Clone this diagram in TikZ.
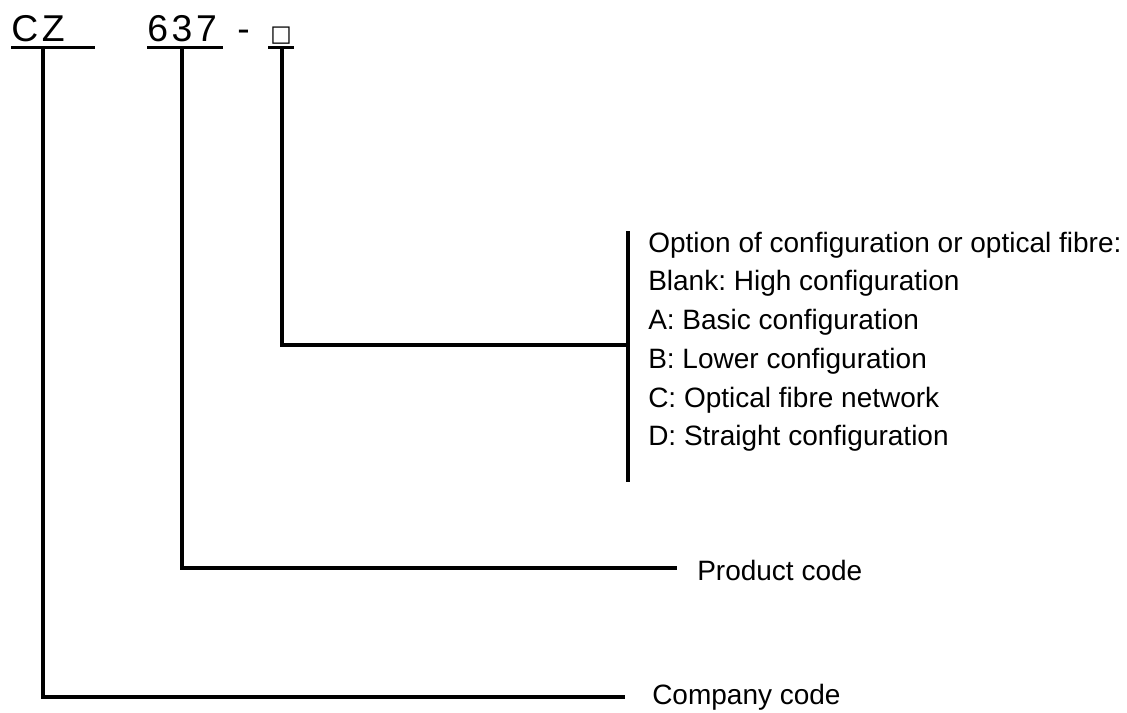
\documentclass[tikz,border=0pt]{standalone}
\usepackage{fontspec}
\setmainfont{Liberation Sans}
\newfontfamily\symfont{DejaVu Sans}
\frenchspacing
\begin{document}
\begin{tikzpicture}[x=0.75pt,y=-0.75pt,
	code_part/.style={inner sep=0pt,anchor=base west,font=\fontsize{28}{32}\selectfont\addfontfeature{LetterSpace=10}},
	item_label/.style={inner sep=0pt,anchor=west,font=\fontsize{21}{25}\selectfont},
	under_line/.style={line width=1.6pt},
	lead_line/.style={line width=2.5pt}]

	\useasboundingbox (0,0) rectangle (1127,713);

	% model code
	\node[code_part] (cz) at (11,42) {CZ};
	\node[code_part] (num) at (147,42) {637};
	\node[code_part] (dash) at (237,42) {-};
	\node[code_part,font=\fontsize{17}{20}\symfont] (box) at (270,42) {□};

	\draw[under_line] (11,47.5) -- (95,47.5);
	\draw[under_line] (147,47.5) -- (223,47.5);
	\draw[under_line] (268,47.5) -- (294,47.5);

	\coordinate (cz_foot) at (43,48);
	\coordinate (num_foot) at (182,48);
	\coordinate (box_foot) at (282,48);

	% labels
	\node[item_label] (company) at (652,697) {Company code};
	\node[item_label] (product) at (697,570) {Product code};
	\foreach \i/\txt in {0/Option of configuration or optical fibre:,
		1/Blank: High configuration,
		2/A: Basic configuration,
		3/B: Lower configuration,
		4/C: Optical fibre network,
		5/D: Straight configuration}
		\node[item_label] (opt\i) at (648,{245+38.7*\i}) {\txt};

	\coordinate (br_top) at (628,231);
	\coordinate (br_bot) at (628,482);
	\coordinate (br_join) at (628,345);

	\draw[lead_line] (br_top) -- (br_bot);
	\draw[lead_line] (cz_foot) |- ([xshift=-20pt]company.west);
	\draw[lead_line] (num_foot) |- ([xshift=-15pt,yshift=1.5pt]product.west);
	\draw[lead_line] (box_foot) |- (br_join);
\end{tikzpicture}
\end{document}
